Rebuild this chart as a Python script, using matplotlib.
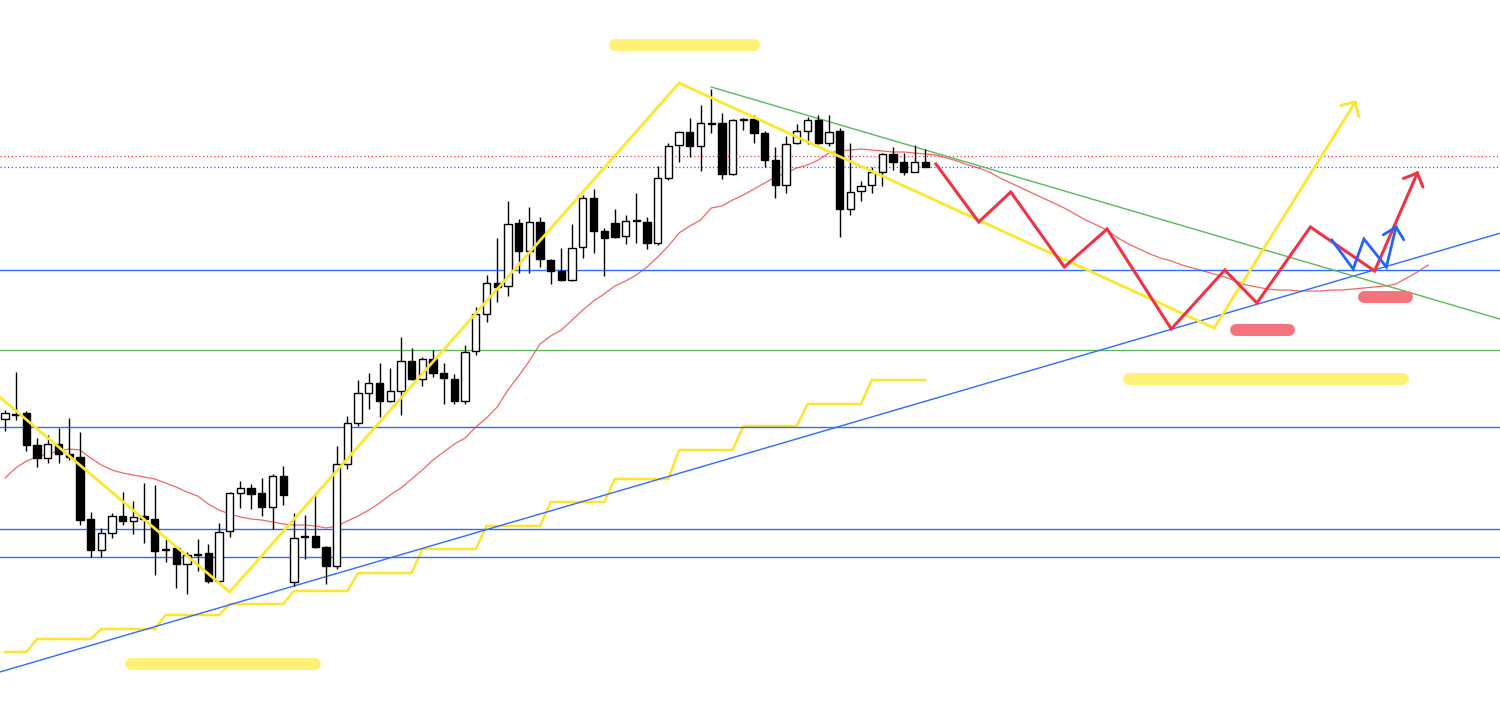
import numpy as np
import matplotlib
matplotlib.use("Agg")
import matplotlib.pyplot as plt

opens = [419, 413.5, 413, 445, 458, 444, 454, 457, 519, 550, 533, 516, 521, 516, 519,
         549, 548, 564, 554, 553, 581, 531, 493, 488, 493, 507, 476, 582, 536, 536,
         547, 566, 464, 423, 393, 383, 401, 391, 361, 379, 359, 373, 379, 401, 351,
         314, 283, 286, 223, 251, 222, 260, 271, 280, 247, 198, 231, 223, 236, 220,
         222, 243, 178, 145, 132, 146, 123, 123, 174, 119, 119, 133, 160, 185, 143,
         131, 120, 143, 131, 209, 191, 185, 172, 154, 162, 172, 162]
highs = [410, 372, 411, 438, 435, 428, 418, 432, 512, 528, 513, 492, 501, 483, 485,
         539, 547, 552, 539, 544, 523, 492, 481, 484, 478, 474, 466, 513, 515, 495,
         546, 446, 416, 380, 373, 363, 368, 337, 348, 357, 350, 363, 374, 345, 307,
         275, 238, 201, 219, 207, 217, 259, 248, 224, 195, 189, 228, 209, 215, 193,
         217, 166, 143, 131, 118, 105, 89, 113, 119, 118, 115, 131, 147, 136, 124,
         117, 115, 115, 128, 143, 181, 167, 153, 147, 153, 145, 149]
lows = [431, 420, 451, 467, 463, 463, 460, 525, 557, 557, 538, 525, 534, 543, 575,
        562, 588, 594, 571, 583, 582, 537, 508, 509, 516, 529, 505, 586, 559, 548,
        584, 569, 469, 426, 409, 417, 402, 415, 380, 386, 377, 404, 404, 404, 355,
        322, 302, 296, 273, 273, 267, 284, 281, 281, 258, 253, 276, 238, 244, 243,
        249, 245, 180, 162, 157, 171, 133, 179, 175, 130, 143, 167, 198, 193, 144,
        144, 144, 146, 237, 215, 201, 193, 186, 170, 175, 172, 167]
closes = [413, 414, 445, 458, 444, 454, 457, 520, 550, 533, 516, 521, 517, 519, 551,
          550, 564, 555, 555, 581, 532, 493, 488, 494, 507, 476, 495, 538, 537, 547,
          566, 464, 423, 393, 383, 401, 391, 361, 379, 359, 373, 378, 401, 352, 314,
          283, 287, 224, 251, 222, 259, 271, 280, 248, 198, 231, 238, 237, 221, 220.5,
          243, 178, 146, 132, 146, 123, 123.5, 174, 120, 119.5, 133, 160, 185, 144, 131,
          120, 143, 132, 209, 192, 186, 172, 154, 162, 172, 162, 167]

# moving average (continues into the projected area)
ma = [478, 468, 461, 457, 454, 451, 449, 450, 458, 465, 470, 473, 475, 477, 479,
      483, 487, 492, 496, 504, 510, 514, 517, 519, 520, 522, 524, 525, 525, 526,
      528, 526, 521, 516, 510, 503, 495, 488, 479, 470, 460, 452, 444, 438, 427,
      418, 407, 390, 376, 361, 344, 336, 330, 320, 310, 301, 294, 286, 281, 275,
      267, 257, 246, 233, 226, 220, 208, 206, 200, 195, 189, 183, 177, 173, 168,
      165, 160, 153, 151, 150, 149, 150, 151, 152, 152, 153, 154,
      155, 158, 161, 165, 168, 172, 178, 183, 188, 193, 198, 203, 208, 214,
      220, 225, 230, 238, 244, 249, 254, 258, 261, 265, 268, 271, 274, 277,
      281, 285, 287, 289, 290, 290, 291, 291, 291, 290, 290, 289, 288, 287,
      286, 284, 278, 272, 265]

# higher timeframe step line
htf = [652, 652, 652, 639, 639, 639, 639, 639, 639, 629, 629, 629, 629, 629, 629,
       615, 615, 615, 615, 615, 615, 604, 604, 604, 604, 604, 604, 591, 591, 591,
       591, 591, 591, 573, 573, 573, 573, 573, 573, 549, 549, 549, 549, 549, 549,
       526, 526, 526, 526, 526, 526, 502, 502, 502, 502, 502, 502, 479, 479, 479,
       479, 479, 479, 450, 450, 450, 450, 450, 450, 426, 426, 426, 426, 426, 426,
       404, 404, 404, 404, 404, 404, 380, 380, 380, 380, 380, 380]

blue_levels = [270, 426.5, 529, 557]
green_level = 350
red_dotted = 156
blue_dotted = 167

# drawings: (bar, level)
yellow_path = [(-0.5, 397), (21, 592), (63, 83), (113, 328), (126.2, 102)]
red_path = [(87, 164), (91, 222), (94, 192), (99, 267), (103, 229), (109, 329),
            (114, 270), (117, 303), (122, 227), (128, 271), (132, 173)]
blue_path = [(124, 240), (126, 269), (127, 239), (129.1, 267), (130, 227)]
up_trend = [(0, 670.5), (100, 357.5)]
down_trend = [(66, 87), (140, 320)]
yellow_marks = [(57.0, 70.0, 45), (11.8, 29.0, 664), (105.0, 130.7, 379)]
pink_marks = [(115.0, 120.0, 329.5), (127.0, 131.0, 297)]

PX0, STEP = 5, 10.7  # pixel position of bar 0 and bar spacing


def arrow_head(ax, start, tip, color, lw):
    # two barbs at +-45 degrees, ~15 px long, worked out in pixel space
    sx, sy = PX0 + STEP * start[0], start[1]
    tx, ty = PX0 + STEP * tip[0], tip[1]
    ang = np.arctan2(sy - ty, sx - tx)
    for da in (np.radians(45), -np.radians(45)):
        bx = tx + 15 * np.cos(ang + da)
        by = ty + 15 * np.sin(ang + da)
        ax.plot([tip[0], (bx - PX0) / STEP], [tip[1], by], color=color, lw=lw,
                solid_capstyle="round", zorder=6)


fig = plt.figure(figsize=(15, 7.12), dpi=100)
ax = fig.add_axes([0, 0, 1, 1])
ax.set_xlim(-PX0 / STEP, (1500 - PX0) / STEP)
ax.set_ylim(712, 0)
ax.axis("off")

for lv in blue_levels:
    ax.axhline(lv, color="#2f6bff", lw=1.0, zorder=3)
ax.axhline(green_level, color="#5cb85c", lw=1.0, zorder=3)
ax.axhline(red_dotted, color="#f23645", lw=0.9, ls=(0, (1, 2)), zorder=3)
ax.axhline(blue_dotted, color="#2962ff", lw=0.9, ls=(0, (1, 2)), zorder=3)

ax.axline(up_trend[0], up_trend[1], color="#2f6bff", lw=1.0, zorder=3)
ax.plot([p[0] for p in down_trend], [p[1] for p in down_trend], color="#5cb85c", lw=1.0, zorder=3)

ax.plot(np.arange(len(ma)), ma, color="#f26666", lw=0.9, zorder=2)
ax.plot(np.arange(len(htf)), htf, color="#fde431", lw=1.8, zorder=2)

# candles
idx = np.arange(len(opens))
o = np.array(opens)
c = np.array(closes)
up = c < o
ax.vlines(idx, highs, lows, color="black", lw=1.0, zorder=4)
body_h = np.maximum(np.abs(c - o), 1.0)
ax.bar(idx, body_h, bottom=np.minimum(o, c), width=0.68,
       color=np.where(up, "white", "black"), edgecolor="black", linewidth=1.0, zorder=5)

# highlighter marks
for x0, x1, y in yellow_marks:
    ax.plot([x0, x1], [y, y], color="#fff176", lw=8.6, solid_capstyle="round", zorder=1)
for x0, x1, y in pink_marks:
    ax.plot([x0, x1], [y, y], color="#f5737c", lw=8.6, solid_capstyle="round", zorder=6)

# scenario paths
ax.plot([p[0] for p in yellow_path], [p[1] for p in yellow_path], color="#fde72e", lw=2.0,
        solid_joinstyle="miter", zorder=6)
arrow_head(ax, yellow_path[-2], yellow_path[-1], "#fde72e", 2.0)
ax.plot([p[0] for p in red_path], [p[1] for p in red_path], color="#ee3344", lw=2.2,
        solid_joinstyle="miter", zorder=6)
arrow_head(ax, red_path[-2], red_path[-1], "#ee3344", 2.2)
ax.plot([p[0] for p in blue_path], [p[1] for p in blue_path], color="#2463ff", lw=2.0,
        solid_joinstyle="miter", zorder=6)
arrow_head(ax, blue_path[-2], blue_path[-1], "#2463ff", 2.0)

fig.savefig("out.png", dpi=100, facecolor="white")
